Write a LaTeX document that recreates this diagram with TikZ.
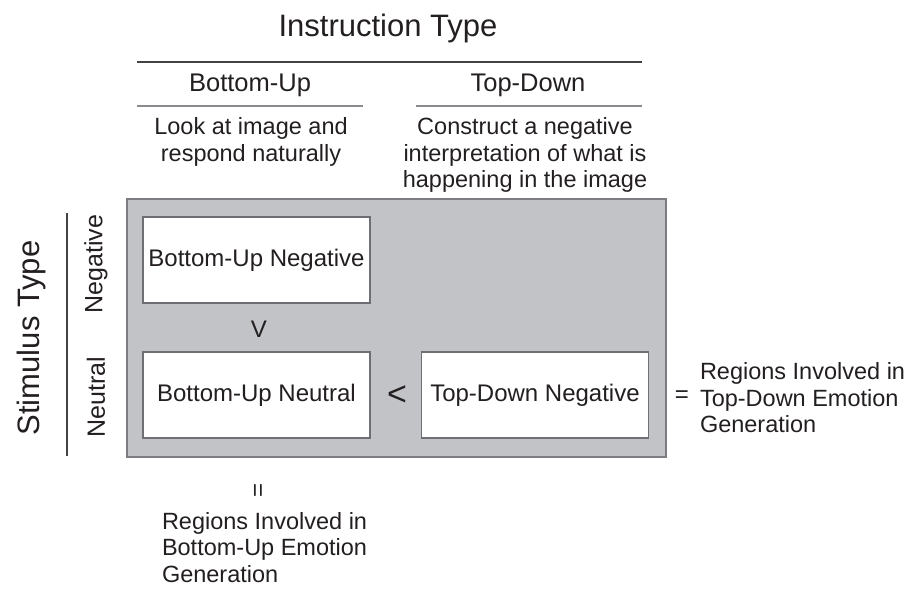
\documentclass[tikz,border=0pt]{standalone}
\usepackage{fontspec}
\setmainfont{Liberation Sans}
\definecolor{txt}{HTML}{231F20}
\definecolor{panelfill}{HTML}{C2C3C7}
\definecolor{paneledge}{HTML}{7C7D80}
\definecolor{boxedge}{HTML}{6E6F72}
\definecolor{rulelight}{HTML}{8A8B8E}
\begin{document}
\begin{tikzpicture}[x=1pt,y=-1pt,
  every node/.style={text=txt, inner sep=0pt, outer sep=0pt},
  title/.style={font=\fontsize{31}{34}\selectfont},
  head/.style={font=\fontsize{25.5}{28}\selectfont},
  desc/.style={font=\fontsize{23.5}{26.5}\selectfont, align=center},
  side/.style={font=\fontsize{23.5}{26.5}\selectfont, align=left},
  rowlab/.style={font=\fontsize{25}{28}\selectfont, rotate=90},
  cell/.style={draw=boxedge, line width=1.3pt, fill=white, minimum width=227pt, minimum height=86pt, font=\fontsize{24}{28}\selectfont},
  rel/.style={font=\fontsize{24}{28}\selectfont},
  bigrel/.style={font=\fontsize{34}{36}\selectfont},
  panelbox/.style={draw=paneledge, line width=2pt, fill=panelfill, minimum width=539pt, minimum height=258pt},
  darkrule/.style={draw=txt!85, line width=1.3pt},
  lightrule/.style={draw=rulelight, line width=1.5pt}]
\useasboundingbox (0,0) rectangle (908,589);

% header
\node[title] (instr) at (388,28) {Instruction Type};
\draw[darkrule] (137,62) -- (642,62);
\node[head] (bu) at (250,85) {Bottom-Up};
\node[head] (td) at (528,85) {Top-Down};
\draw[lightrule] (137,106) -- (363,106);
\draw[lightrule] (416,106) -- (642,106);
\node[desc] (budesc) at (251,142) {Look at image and\\respond naturally};
\node[desc] (tddesc) at (525,155) {Construct a negative\\interpretation of what is\\happening in the image};

% panel
\node[panelbox] (panel) at (396.5,328) {};
\node[cell] (bun) at (256.5,260) {Bottom-Up Negative};
\node[cell] (buu) at (256.5,395) {Bottom-Up Neutral};
\node[cell] (tdn) at (535,395) {Top-Down Negative};
\node[rel] (vless) at (259,329) {V};
\node[bigrel] (hless) at (397,396) {<};

% left labels
\node[title, rotate=90] (stim) at (31,338) {Stimulus Type};
\draw[darkrule] (67,213) -- (67,456);
\node[rowlab] (neg) at (96,264) {Negative};
\node[rowlab] (neu) at (96,397) {Neutral};

% right result
\node[rel] (eqr) at (682,397) {=};
\node[side, anchor=west] (tdreg) at (700,398) {Regions Involved in\\Top-Down Emotion\\Generation};

% bottom result
\node[rel, rotate=90] (eqb) at (260,490) {=};
\node[side, anchor=north west] (bureg) at (162,512) {Regions Involved in\\Bottom-Up Emotion\\Generation};
\end{tikzpicture}
\end{document}
